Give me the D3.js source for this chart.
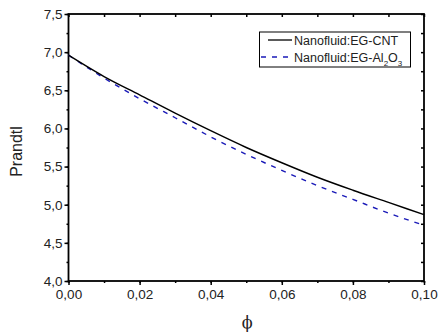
<!DOCTYPE html>
<html>
<head>
<meta charset="utf-8">
<script src="https://cdn.jsdelivr.net/npm/d3@7"></script>
<style>
  body { margin: 0; background: #fff; }
  text { font-family: "Liberation Sans", Arial, sans-serif; fill: #222; }
</style>
</head>
<body>
<script>
var phi = [0, 0.01, 0.02, 0.03, 0.04, 0.05, 0.06, 0.07, 0.08, 0.09, 0.10];
var prCNT = [6.96, 6.68, 6.44, 6.20, 5.97, 5.75, 5.55, 5.36, 5.19, 5.03, 4.87];
var prAl2O3 = [6.96, 6.66, 6.39, 6.14, 5.89, 5.66, 5.45, 5.25, 5.07, 4.89, 4.73];
var xTicks = [0, 0.02, 0.04, 0.06, 0.08, 0.10];
var yTicks = [4.0, 4.5, 5.0, 5.5, 6.0, 6.5, 7.0, 7.5];

var width = 438, height = 335;
var plotL = 68.5, plotR = 424, plotT = 14, plotB = 281;

var svg = d3.select('body')
  .append('svg')
    .attr('width', width)
    .attr('height', height);

var x = d3.scaleLinear().domain([0, 0.1]).range([plotL, plotR]);
var y = d3.scaleLinear().domain([4, 7.5]).range([plotB, plotT]);

var fmt = function(d) { return d3.format('.2f')(d).replace('.', ','); };
var fmtY = function(d) { return d3.format('.1f')(d).replace('.', ','); };

var xMinor = d3.range(0, 0.1001, 0.01);
var yMinor = d3.range(4, 7.501, 0.25);

function styleAxis(g) {
  g.select('.domain').remove();
  g.selectAll('line').attr('stroke', '#000').attr('stroke-width', 1.5);
  g.selectAll('text').attr('font-size', '13.5px').attr('fill', '#222');
}

// bottom axis (outward ticks)
svg.append('g')
  .attr('transform', 'translate(0,' + plotB + ')')
  .call(d3.axisBottom(x).tickValues(xMinor).tickSize(2).tickFormat(''))
  .call(styleAxis);
svg.append('g')
  .attr('transform', 'translate(0,' + plotB + ')')
  .call(d3.axisBottom(x).tickValues(xTicks).tickSize(4).tickPadding(4).tickFormat(fmt))
  .call(styleAxis);

// left axis
svg.append('g')
  .attr('transform', 'translate(' + plotL + ',0)')
  .call(d3.axisLeft(y).tickValues(yMinor).tickSize(2).tickFormat(''))
  .call(styleAxis);
svg.append('g')
  .attr('transform', 'translate(' + plotL + ',0)')
  .call(d3.axisLeft(y).tickValues(yTicks).tickSize(4).tickPadding(2).tickFormat(fmtY))
  .call(styleAxis);

// top and right axes (inward ticks, no labels)
svg.append('g')
  .attr('transform', 'translate(0,' + plotT + ')')
  .call(d3.axisBottom(x).tickValues(xMinor).tickSize(3).tickFormat(''))
  .call(styleAxis);
svg.append('g')
  .attr('transform', 'translate(' + plotR + ',0)')
  .call(d3.axisLeft(y).tickValues(yMinor).tickSize(3).tickFormat(''))
  .call(styleAxis);

// frame
svg.append('rect')
  .attr('x', plotL).attr('y', plotT)
  .attr('width', plotR - plotL).attr('height', plotB - plotT)
  .attr('fill', 'none').attr('stroke', '#000').attr('stroke-width', 1.8);

var line = function(vals) {
  return d3.line()
    .x(function(d, i) { return x(phi[i]); })
    .y(function(d) { return y(d); })
    .curve(d3.curveMonotoneX)(vals);
};

svg.append('path')
  .attr('d', line(prAl2O3))
  .attr('fill', 'none')
  .attr('stroke', '#1a1ab8')
  .attr('stroke-width', 1.4)
  .attr('stroke-dasharray', '5,6');

svg.append('path')
  .attr('d', line(prCNT))
  .attr('fill', 'none')
  .attr('stroke', '#000')
  .attr('stroke-width', 1.4);

// legend
var lg = svg.append('g');
lg.append('rect')
  .attr('x', 259.5).attr('y', 32)
  .attr('width', 151).attr('height', 35)
  .attr('fill', '#fff').attr('stroke', '#000').attr('stroke-width', 1);
lg.append('line')
  .attr('x1', 268).attr('x2', 292).attr('y1', 40).attr('y2', 40)
  .attr('stroke', '#000').attr('stroke-width', 1.3);
lg.append('line')
  .attr('x1', 261).attr('x2', 292).attr('y1', 57).attr('y2', 57)
  .attr('stroke', '#1a1ab8').attr('stroke-width', 1.3)
  .attr('stroke-dasharray', '5,6');
lg.append('text')
  .attr('x', 294).attr('y', 44.5)
  .attr('font-size', '12.5px')
  .text('Nanofluid:EG-CNT');
var t2 = lg.append('text')
  .attr('x', 294).attr('y', 61.5)
  .attr('font-size', '12.5px');
t2.append('tspan').text('Nanofluid:EG-Al');
t2.append('tspan').attr('font-size', '8px').attr('dy', 4).text('2');
t2.append('tspan').attr('dy', -4).text('O');
t2.append('tspan').attr('font-size', '8px').attr('dy', 4).text('3');

// axis titles
svg.append('text')
  .attr('transform', 'translate(22,' + ((plotT + plotB) / 2 + 4) + ') rotate(-90)')
  .attr('text-anchor', 'middle')
  .attr('font-size', '16px')
  .text('Prandtl');

svg.append('text')
  .attr('x', (plotL + plotR) / 2 + 1)
  .attr('y', 328)
  .attr('text-anchor', 'middle')
  .attr('font-size', '16px')
  .style('font-family', '"DejaVu Serif", "Liberation Serif", serif')
  .text('\u03D5');
</script>
</body>
</html>
